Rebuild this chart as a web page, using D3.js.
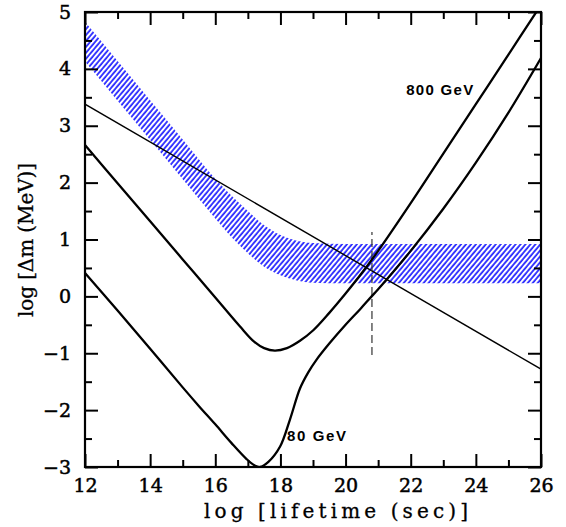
<!DOCTYPE html>
<html lang="en">
  <head>
    <meta charset="UTF-8" />
    <title>log dm vs log lifetime - d3</title>
    <script src="https://d3js.org/d3.v7.min.js"></script>
  </head>
  <style>
    html,
    body {
      margin: 0;
      padding: 0;
      background: #fff;
    }
  </style>
  <body>
    <script>
      // data (x = log lifetime, y = log dm)
      var xMajor = [12, 14, 16, 18, 20, 22, 24, 26];
      var xMinor = [13, 15, 17, 19, 21, 23, 25];
      var yMajor = [-3, -2, -1, 0, 1, 2, 3, 4, 5];
      var yMinor = [-2.5, -1.5, -0.5, 0.5, 1.5, 2.5, 3.5, 4.5];

      // hatched band
      var bandX = [12, 13, 14, 15, 16, 16.5, 17, 17.5, 18, 18.5, 19, 20, 26];
      var bandTop = [4.83, 4.14, 3.45, 2.76, 2.07, 1.77, 1.5, 1.25, 1.08, 0.98, 0.94, 0.92, 0.92];
      var bandBottom = [4.13, 3.44, 2.75, 2.06, 1.37, 1.04, 0.76, 0.52, 0.37, 0.28, 0.24, 0.23, 0.23];

      // 800 GeV curve
      var gev800X = [12, 13, 14, 15, 16, 16.76, 17.2, 17.5, 17.83, 18.2, 18.6, 19, 19.5, 20, 20.5, 21, 22, 23, 24, 25, 25.88];
      var gev800Y = [2.66, 1.99, 1.32, 0.65, -0.02, -0.53, -0.8, -0.91, -0.955, -0.91, -0.78, -0.6, -0.29, 0.05, 0.41, 0.8, 1.64, 2.51, 3.38, 4.25, 5.02];

      // 80 GeV curve
      var gev80X = [12, 13, 14, 15, 15.5, 16, 16.5, 16.96, 17.2, 17.37, 17.63, 17.99, 18.29, 18.6, 18.85, 19.1, 19.5, 20, 20.44, 20.8, 21, 22, 23, 24, 25, 26];
      var gev80Y = [0.41, -0.25, -0.92, -1.6, -1.93, -2.25, -2.58, -2.86, -2.97, -3.0, -2.91, -2.64, -2.17, -1.62, -1.34, -1.12, -0.83, -0.5, -0.23, 0.0, 0.125, 0.8, 1.54, 2.35, 3.23, 4.19];

      // thin straight line and dashed marker
      var lineX = [12, 26];
      var lineY = [3.38, -1.28];
      var dashX = [20.81, 20.81];
      var dashY = [-1.03, 1.13];

      var width = 566,
        height = 527;
      var x = d3.scaleLinear().domain([12, 26]).range([85, 541]);
      var y = d3.scaleLinear().domain([-3, 5]).range([467, 12]);

      var svg = d3
        .select("body")
        .append("svg")
        .attr("width", width)
        .attr("height", height);

      // hatch pattern
      var defs = svg.append("defs");
      defs
        .append("pattern")
        .attr("id", "hatch")
        .attr("patternUnits", "userSpaceOnUse")
        .attr("width", 3.8)
        .attr("height", 10)
        .attr("patternTransform", "rotate(40)")
        .append("line")
        .attr("x1", 1)
        .attr("y1", -1)
        .attr("x2", 1)
        .attr("y2", 11)
        .attr("stroke", "#0000ff")
        .attr("stroke-width", 1.5);

      defs
        .append("clipPath")
        .attr("id", "plot")
        .append("rect")
        .attr("x", 85)
        .attr("y", 12)
        .attr("width", 456)
        .attr("height", 455);

      var g = svg.append("g").attr("clip-path", "url(#plot)");

      var area = d3
        .area()
        .x(function (d, i) { return x(bandX[i]); })
        .y0(function (d, i) { return y(bandBottom[i]); })
        .y1(function (d, i) { return y(bandTop[i]); })
        .curve(d3.curveMonotoneX);

      g.append("path")
        .attr("d", area(bandX))
        .attr("fill", "url(#hatch)");

      function curve(xs, ys, c) {
        return d3
          .line()
          .x(function (d, i) { return x(xs[i]); })
          .y(function (d, i) { return y(ys[i]); })
          .curve(c)(xs);
      }

      g.append("path")
        .attr("d", curve(lineX, lineY, d3.curveLinear))
        .attr("fill", "none")
        .attr("stroke", "#000")
        .attr("stroke-width", 1.4);

      g.append("path")
        .attr("d", curve(dashX, dashY, d3.curveLinear))
        .attr("fill", "none")
        .attr("stroke", "#333")
        .attr("stroke-width", 1.2)
        .attr("stroke-dasharray", "8,4");

      g.append("path")
        .attr("d", curve(gev800X, gev800Y, d3.curveCatmullRom))
        .attr("fill", "none")
        .attr("stroke", "#000")
        .attr("stroke-width", 2.3);

      g.append("path")
        .attr("d", curve(gev80X, gev80Y, d3.curveCatmullRom))
        .attr("fill", "none")
        .attr("stroke", "#000")
        .attr("stroke-width", 2.3);

      // axes, ticks pointing inward on all four sides
      var font = "'DejaVu Serif', serif";

      function axis(gen, tr, vals, size, labels) {
        var a = gen
          .tickValues(vals)
          .tickSize(-size)
          .tickPadding(labels ? 12 : 0)
          .tickFormat(labels ? d3.format("d") : "");
        var sel = svg
          .append("g")
          .attr("transform", tr)
          .call(a);
        sel.select(".domain").remove();
        sel.selectAll("line").attr("stroke", "#000").attr("stroke-width", 2);
        sel
          .selectAll("text")
          .attr("font-family", font)
          .attr("font-size", 19)
          .attr("fill", "#000")
          .attr("stroke", "#000")
          .attr("stroke-width", 0.5);
        return sel;
      }

      axis(d3.axisBottom(x), "translate(0,467)", xMajor, 13, true);
      axis(d3.axisBottom(x), "translate(0,467)", xMinor, 7, false);
      axis(d3.axisTop(x), "translate(0,12)", xMajor, 13, false);
      axis(d3.axisTop(x), "translate(0,12)", xMinor, 7, false);
      axis(d3.axisLeft(y), "translate(85,0)", yMajor, 13, true)
        .selectAll("text")
        .attr("dx", "-0.1em");
      axis(d3.axisLeft(y), "translate(85,0)", yMinor, 7, false);
      axis(d3.axisRight(y), "translate(541,0)", yMajor, 13, false);
      axis(d3.axisRight(y), "translate(541,0)", yMinor, 7, false);

      svg
        .append("rect")
        .attr("x", 85)
        .attr("y", 12)
        .attr("width", 456)
        .attr("height", 455)
        .attr("fill", "none")
        .attr("stroke", "#000")
        .attr("stroke-width", 2.2);

      // titles
      svg
        .append("text")
        .attr("x", 204)
        .attr("y", 518)
        .attr("font-family", font)
        .attr("font-size", 20)
        .attr("textLength", 264)
        .attr("lengthAdjust", "spacing")
        .attr("stroke", "#000")
        .attr("stroke-width", 0.3)
        .text("log [lifetime (sec)]");

      svg
        .append("text")
        .attr("transform", "translate(33,317) rotate(-90)")
        .attr("font-family", font)
        .attr("font-size", 20)
        .attr("textLength", 154)
        .attr("lengthAdjust", "spacing")
        .attr("stroke", "#000")
        .attr("stroke-width", 0.3)
        .text("log [\u0394m (MeV)]");

      // curve labels
      svg
        .append("text")
        .attr("x", x(21.86))
        .attr("y", y(3.54))
        .attr("font-family", "'Liberation Sans', sans-serif")
        .attr("font-weight", "bold")
        .attr("font-size", 15)
        .attr("textLength", 67)
        .attr("lengthAdjust", "spacing")
        .text("800 GeV");

      svg
        .append("text")
        .attr("x", x(18.2))
        .attr("y", y(-2.54))
        .attr("font-family", "'Liberation Sans', sans-serif")
        .attr("font-weight", "bold")
        .attr("font-size", 15)
        .attr("textLength", 59)
        .attr("lengthAdjust", "spacing")
        .text("80 GeV");
    </script>
  </body>
</html>
